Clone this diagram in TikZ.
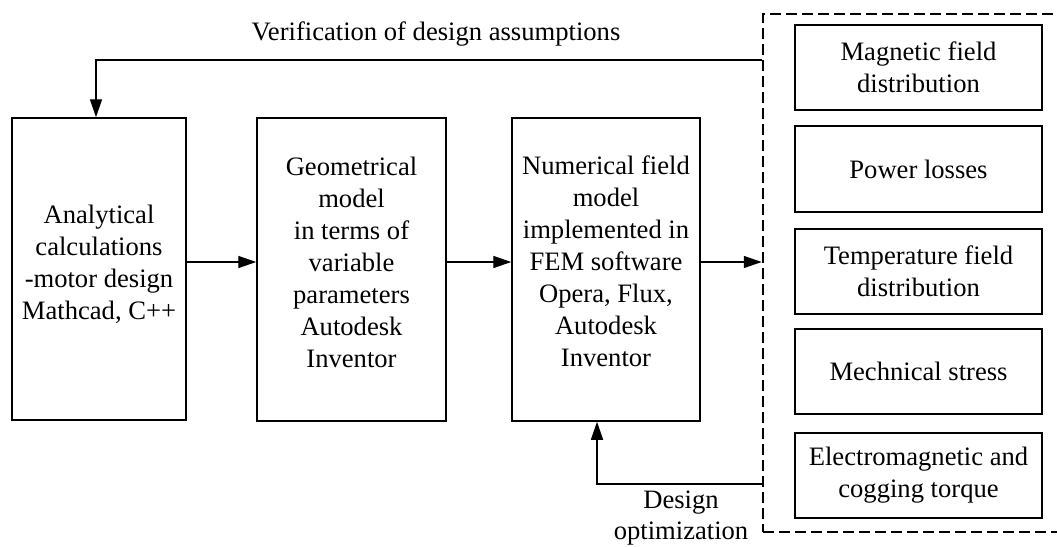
\documentclass[tikz,border=0pt]{standalone}
\usepackage{fontspec}
\setmainfont{Liberation Serif}
\usetikzlibrary{arrows.meta}
\begin{document}
\begin{tikzpicture}[x=1pt,y=-1pt,
  box/.style={draw, line width=1.5pt, inner sep=0pt},
  txt/.style={align=center, inner sep=0pt, font=\fontsize{26.6}{32}\selectfont},
  arr/.style={line width=1.4pt, -{Triangle[length=18pt,width=12pt]}},
  dashbox/.style={draw, line width=2.5pt, dash pattern=on 11pt off 5pt}]
\clip (0,0) rectangle (1057,546);
\fill[white] (0,0) rectangle (1057,546);
% main boxes
\node[box, minimum width=174, minimum height=302] (b1) at (99,269) {};
\node[txt] (t1) at ([yshift=5pt]b1.center) {Analytical\\calculations\\-motor design\\Mathcad, C++};
\node[box, minimum width=189, minimum height=303] (b2) at (351.5,269.5) {};
\node[txt] (t2) at ([yshift=7.5pt]b2.center) {Geometrical\\model\\in terms of\\variable\\parameters\\Autodesk\\Inventor};
\node[box, minimum width=188, minimum height=303] (b3) at (606,269.5) {};
\node[txt] (t3) at ([yshift=8pt]b3.center) {Numerical field\\model\\implemented in\\FEM software\\Opera, Flux,\\Autodesk\\Inventor};
% dashed group
\node[dashbox, minimum width=302, minimum height=518, inner sep=0pt] (grp) at (914,273) {};
% right boxes
\node[box, txt, draw, minimum width=247, minimum height=85] (r1) at (918.5,67.5) {Magnetic field\\distribution};
\node[box, txt, draw, minimum width=247, minimum height=86] (r2) at (918.5,169) {Power losses};
\node[box, txt, draw, minimum width=247, minimum height=85] (r3) at (918.5,271.5) {Temperature field\\distribution};
\node[box, txt, draw, minimum width=247, minimum height=85] (r4) at (918.5,371.5) {Mechnical stress};
\node[box, txt, draw, minimum width=247, minimum height=85] (r5) at (918.5,475.5) {Electromagnetic and\\cogging torque};
% connectors
\coordinate (yl) at (0,262);
\draw[arr] (b1.east |- yl) -- (b2.west |- yl);
\draw[arr] (b2.east |- yl) -- (b3.west |- yl);
\draw[arr] (b3.east |- yl) -- (grp.west |- yl);
\coordinate (ytop) at (0,60);
\draw[arr] (grp.west |- ytop) -| ([xshift=-3pt]b1.north);
\coordinate (ybot) at (0,484);
\draw[arr] (grp.west |- ybot) -| ([xshift=-9pt]b3.south);
% labels
\node[txt, anchor=base] (lv) at (436,40) {Verification of design assumptions};
\node[txt, anchor=north, font=\fontsize{26.6}{31}\selectfont] (ld) at (681,491) {Design\\optimization};
\end{tikzpicture}
\end{document}
